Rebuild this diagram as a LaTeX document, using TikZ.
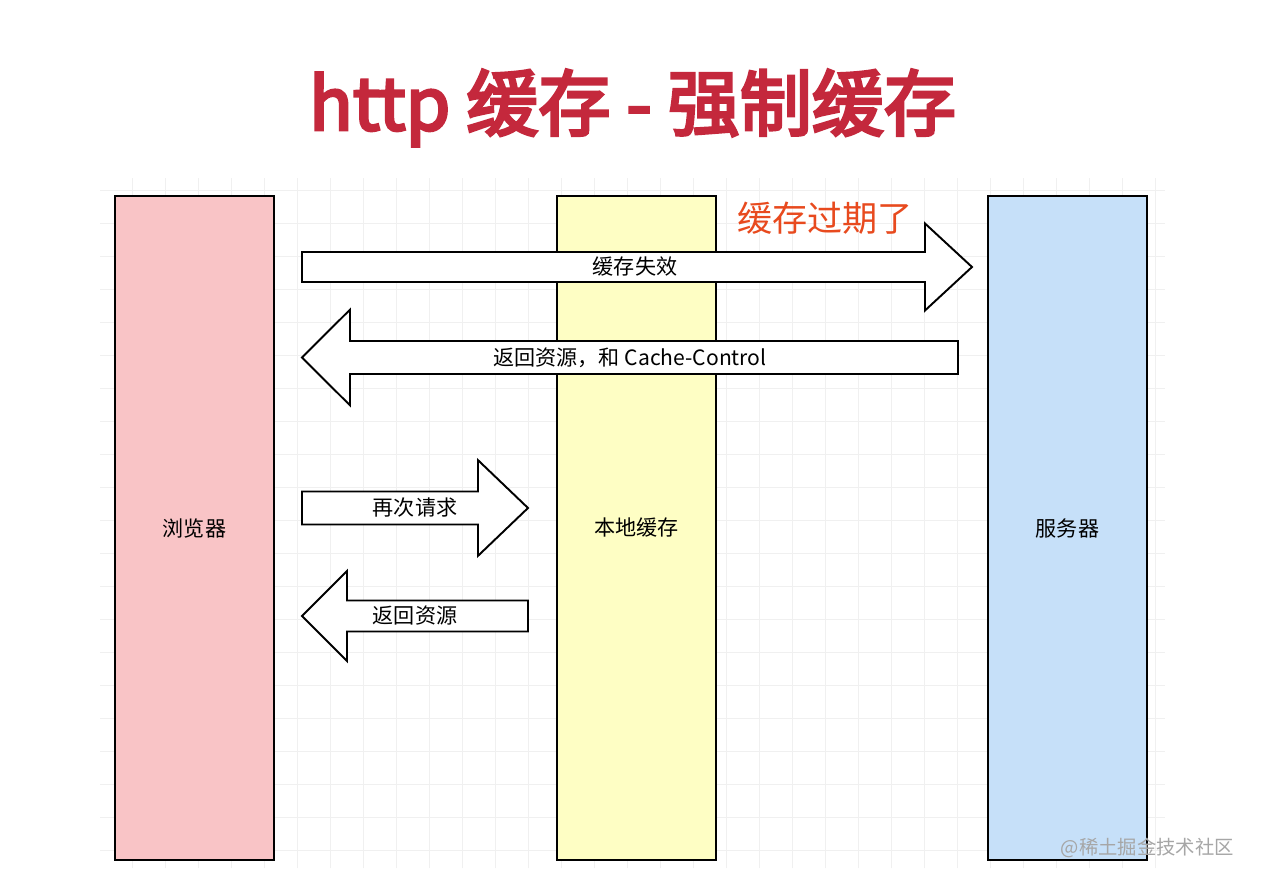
\documentclass[tikz,border=0pt]{standalone}
\usepackage{fontspec}
\setmainfont{Noto Sans CJK SC}
\newfontfamily\titrefont{Noto Sans CJK SC}[FakeBold=4]
\usetikzlibrary{positioning}

\definecolor{titlered}{HTML}{C4283C}
\definecolor{warnred}{HTML}{E84A1E}
\definecolor{pinkfill}{HTML}{F9C4C6}
\definecolor{yellowfill}{HTML}{FEFEC4}
\definecolor{bluefill}{HTML}{C6E0F9}

\tikzstyle{colonne} = [rectangle, draw, line width=1.2pt, minimum width=3.18cm, minimum height=13.28cm, font=\fontsize{12}{14}\selectfont]
\tikzstyle{fleche} = [draw, line width=1.1pt, fill=white]
\tikzstyle{etiquette} = [font=\fontsize{12}{14}\selectfont]

\newcommand{\grossefleche}[5]{% x0, head base, tip, y, half body
  \draw[fleche] (#1,#4+#5) -- (#2,#4+#5) -- (#2,#4+2.9*#5) -- (#3,#4) -- (#2,#4-2.9*#5) -- (#2,#4-#5) -- (#1,#4-#5) -- cycle;}

\begin{document}
\begin{tikzpicture}[x=1cm, y=1cm]
    \useasboundingbox[fill=white] (0,0) rectangle (25.28,17.66);

    % grille
    \draw[gray!12, line width=0.4pt, step=0.66] (2.0,0.3) grid (23.3,14.1);

    % titre
    \node[text=titlered, font=\titrefont\fontsize{41}{48}\selectfont] (titre) at (12.65,15.5) {http 缓存 - 强制缓存};

    % colonnes
    \node[colonne, fill=pinkfill] (B) at (3.89,7.1) {浏览器};
    \node[colonne, fill=yellowfill] (C) at (12.73,7.1) {本地缓存};
    \node[colonne, fill=bluefill] (S) at (21.35,7.1) {服务器};

    %-------------------------------------------
    \grossefleche{6.04}{18.5}{19.44}{12.32}{0.3}
    \node[etiquette] (f1) at (12.7,12.32) {缓存失效};
    \node[text=warnred, font=\fontsize{20}{24}\selectfont] (expire) at (16.5,13.3) {缓存过期了};

    \grossefleche{19.16}{7.0}{6.04}{10.51}{0.33}
    \node[etiquette] (f2) at (12.6,10.51) {返回资源，和 Cache-Control};

    %-------------------------------------------
    \grossefleche{6.04}{9.56}{10.56}{7.5}{0.33}
    \node[etiquette] (f3) at (8.3,7.5) {再次请求};

    \grossefleche{10.56}{6.94}{6.04}{5.34}{0.31}
    \node[etiquette] (f4) at (8.3,5.34) {返回资源};

    % filigrane
    \node[gray!70, font=\fontsize{11}{13}\selectfont, anchor=east] (marque) at (24.8,0.7) {@稀土掘金技术社区};
\end{tikzpicture}
\end{document}
